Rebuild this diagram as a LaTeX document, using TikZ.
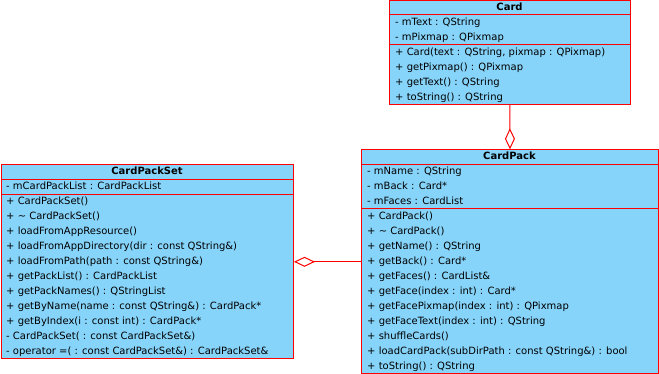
\documentclass[tikz,border=0pt]{standalone}
\usepackage{fontspec}
\setmainfont{DejaVu Sans}
\usetikzlibrary{arrows.meta}
\definecolor{umlred}{RGB}{255,0,0}
\definecolor{umlblue}{RGB}{135,212,250}
\tikzset{
  cls/.style={draw=umlred, fill=umlblue, line width=1pt, inner sep=0pt, anchor=north west},
  sepline/.style={draw=umlred, line width=1pt},
  txt/.style={anchor=base west, inner sep=0pt, font=\fontsize{10}{12}\selectfont},
  hdr/.style={anchor=base, inner sep=0pt, font=\fontsize{10}{12}\selectfont\bfseries},
  conn/.style={draw=umlred, line width=1pt},
  agg/.style={-{Diamond[open, length=21pt, width=10pt]}}
}
\begin{document}
\begin{tikzpicture}[x=1pt,y=-1pt]
\useasboundingbox (0,0) rectangle (659,374);
% ---------- Card ----------
\node[cls, minimum width=241.5pt, minimum height=103.5pt] (card) at (388.5,0.5) {};
\draw[sepline] (388.5,15) -- (630,15);
\draw[sepline] (388.5,45) -- (630,45);
\node[hdr] (cardh) at (509.5,11) {Card};
\node[txt] (card1) at (395,26) {- mText : QString};
\node[txt] (card2) at (395,41) {- mPixmap : QPixmap};
\node[txt] (card3) at (395,56) {+ Card(text : QString, pixmap : QPixmap)};
\node[txt] (card4) at (395,70.75) {+ getPixmap() : QPixmap};
\node[txt] (card5) at (395,85.5) {+ getText() : QString};
\node[txt] (card6) at (395,100.25) {+ toString() : QString};
% ---------- CardPack ----------
\node[cls, minimum width=297pt, minimum height=224pt] (cp) at (361,149.3) {};
\draw[sepline] (361,164.3) -- (658,164.3);
\draw[sepline] (361,209) -- (658,209);
\node[hdr] (cph) at (509.5,160) {CardPack};
\node[txt] (cp1) at (367,175) {- mName : QString};
\node[txt] (cp2) at (367,190) {- mBack : Card*};
\node[txt] (cp3) at (367,205) {- mFaces : CardList};
\node[txt] (cp4) at (367,220) {+ CardPack()};
\node[txt] (cp5) at (367,234.9) {+ \textasciitilde{} CardPack()};
\node[txt] (cp6) at (367,249.8) {+ getName() : QString};
\node[txt] (cp7) at (367,264.7) {+ getBack() : Card*};
\node[txt] (cp8) at (367,279.6) {+ getFaces() : CardList\&};
\node[txt] (cp9) at (367,294.5) {+ getFace(index : int) : Card*};
\node[txt] (cp10) at (367,309.4) {+ getFacePixmap(index : int) : QPixmap};
\node[txt] (cp11) at (367,324.3) {+ getFaceText(index : int) : QString};
\node[txt] (cp12) at (367,339.2) {+ shuffleCards()};
\node[txt] (cp13) at (367,354.1) {+ loadCardPack(subDirPath : const QString\&) : bool};
\node[txt] (cp14) at (367,369) {+ toString() : QString};
% ---------- CardPackSet ----------
\node[cls, minimum width=292pt, minimum height=194pt] (cps) at (1,164.3) {};
\draw[sepline] (1,179.3) -- (293,179.3);
\draw[sepline] (1,194.3) -- (293,194.3);
\node[hdr] (cpsh) at (147,175) {CardPackSet};
\node[txt] (cps1) at (6,190) {- mCardPackList : CardPackList};
\node[txt] (cps2) at (6,205) {+ CardPackSet()};
\node[txt] (cps3) at (6,219.9) {+ \textasciitilde{} CardPackSet()};
\node[txt] (cps4) at (6,234.8) {+ loadFromAppResource()};
\node[txt] (cps5) at (6,249.7) {+ loadFromAppDirectory(dir : const QString\&)};
\node[txt] (cps6) at (6,264.6) {+ loadFromPath(path : const QString\&)};
\node[txt] (cps7) at (6,279.5) {+ getPackList() : CardPackList};
\node[txt] (cps8) at (6,294.4) {+ getPackNames() : QStringList};
\node[txt] (cps9) at (6,309.3) {+ getByName(name : const QString\&) : CardPack*};
\node[txt] (cps10) at (6,324.2) {+ getByIndex(i : const int) : CardPack*};
\node[txt] (cps11) at (6,339.1) {- CardPackSet( : const CardPackSet\&)};
\node[txt] (cps12) at (6,354) {- operator =( : const CardPackSet\&) : CardPackSet\&};
% ---------- connectors ----------
\draw[conn, agg] (card.south) -- (cp.north);
\draw[conn, agg] (cp.west) -- (cps.east);
\end{tikzpicture}
\end{document}
